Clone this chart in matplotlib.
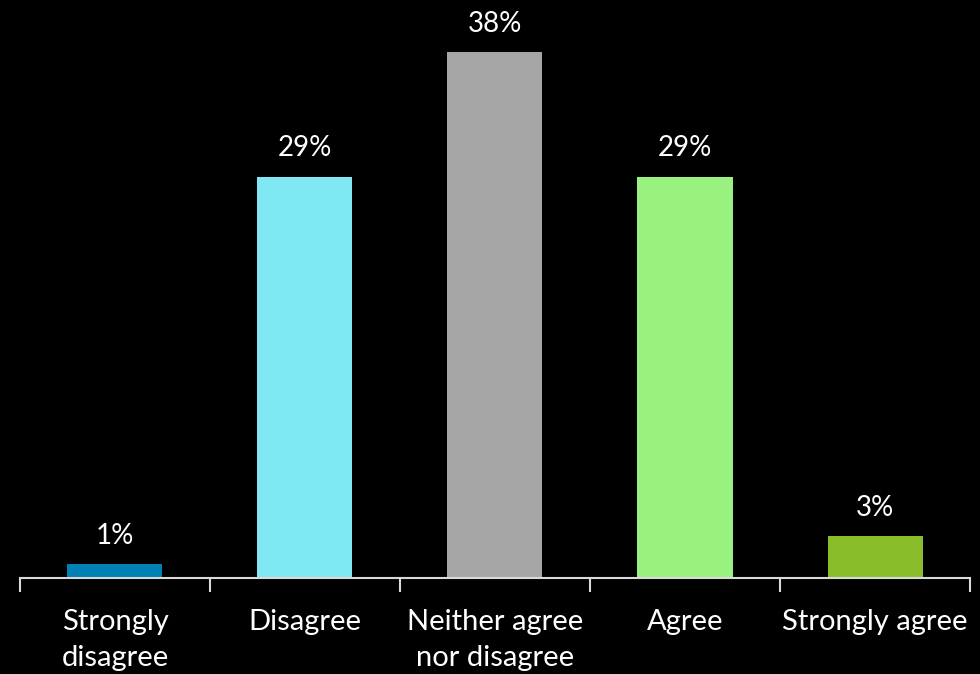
import matplotlib.pyplot as plt

categories = ['Strongly\ndisagree', 'Disagree', 'Neither agree\nnor disagree', 'Agree', 'Strongly agree']
values = [1, 29, 38, 29, 3]
bar_colors = ['#0080B4', '#7FE8F4', '#A6A6A6', '#99F27F', '#8ABD2A']

plt.rcParams['font.family'] = ['Lato', 'DejaVu Sans']

fig = plt.figure(figsize=(9.8, 6.74), dpi=100, facecolor='black')
ax = fig.add_axes([0.0204, 0.1424, 0.9694, 0.8215], facecolor='black')

x = list(range(len(categories)))
bars = ax.bar(x, values, width=0.5, color=bar_colors)

# Percent labels above bars
for rect, v in zip(bars, values):
    ax.annotate(f'{v}%', (rect.get_x() + rect.get_width() / 2, rect.get_height()),
                xytext=(0, 11), textcoords='offset points', ha='center', va='bottom',
                color='white', fontsize=20)

ax.set_xlim(-0.5, 4.5)
ax.set_ylim(0, 40)

# Category ticks sit between bars
ax.set_xticks([i - 0.5 for i in range(len(categories) + 1)])
ax.set_xticklabels([])
ax.set_xticks(x, minor=True)
ax.set_xticklabels(categories, minor=True, color='white', fontsize=21, linespacing=1.5)
ax.tick_params(axis='x', which='major', length=10, color='#D9D9D9', width=1.5)
ax.tick_params(axis='x', which='minor', length=0, pad=22)
ax.set_yticks([])

for side in ['top', 'right', 'left']:
    ax.spines[side].set_visible(False)
ax.spines['bottom'].set_color('#D9D9D9')
ax.spines['bottom'].set_linewidth(1.5)

fig.savefig('out.png', dpi=100, facecolor='black')
